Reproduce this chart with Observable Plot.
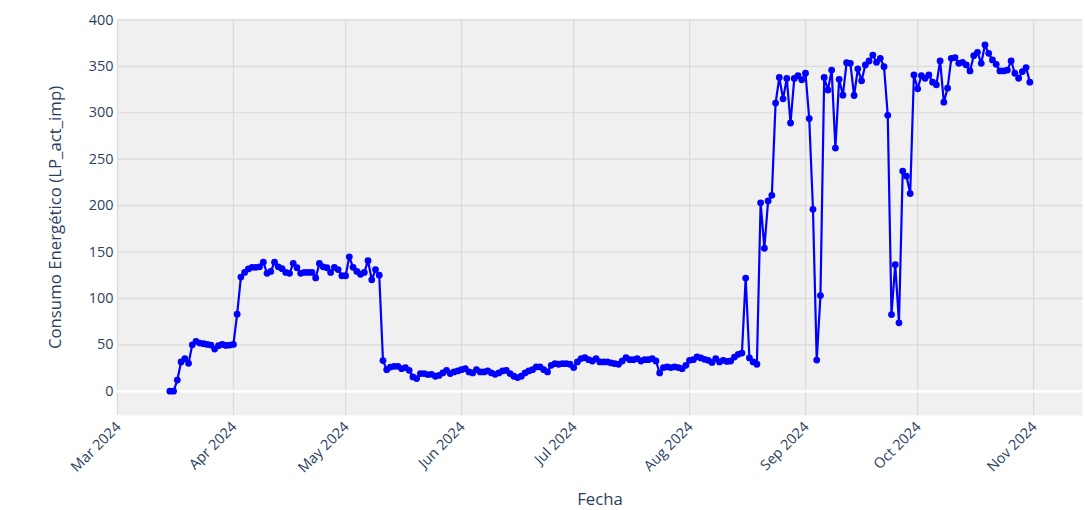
<!DOCTYPE html>
<html>
<head>
<meta charset="utf-8">
<script src="https://cdn.jsdelivr.net/npm/d3@7"></script>
<script src="https://cdn.jsdelivr.net/npm/@observablehq/plot@0.6"></script>
<style>
  html, body { margin: 0; padding: 0; background: #ffffff; }
  #chart { width: 1085px; height: 510px; }
</style>
</head>
<body>
<div id="chart"></div>
<script>
// Daily values (LP_act_imp), each array starts at the given date
const marStart = "2024-03-15";
const marValues = [0, 0, 12, 31.5, 35, 30, 50, 53.6, 51.8, 51.2, 50.4, 49.7, 45.4, 49, 50.4, 49.3, 49.7];
const aprStart = "2024-04-01";
const aprValues = [50.4, 83, 123, 128, 131.7, 133.5, 133.5, 134, 139, 127, 129, 139, 134, 132, 128, 127, 137.7, 133, 127, 128, 128, 128, 122, 137.7, 134, 133, 128, 133.5, 131, 124.4];
const mayStart = "2024-05-01";
const mayValues = [124.4, 144.8, 133.5, 129, 126, 128, 140.6, 120, 131, 125, 33, 23.2, 26, 26.8, 26.8, 24.3, 25.4, 22.5, 15.4, 13.6, 19, 19, 17.9, 18.2, 16.1, 17, 19.7, 22.5, 19, 20.8, 21.8];
const junStart = "2024-06-01";
const junValues = [23.2, 24.3, 20.8, 19.7, 23.2, 20.8, 20.8, 21.8, 19.7, 18.2, 19.7, 21.8, 22.5, 19, 16.1, 14.7, 16.1, 19.7, 21.8, 23.2, 26.1, 26.1, 23.2, 20.8, 27.9, 29.6, 29, 29.6, 29.6, 29];
const julStart = "2024-07-01";
const julValues = [25.4, 31.5, 35.1, 36.1, 33.9, 32.5, 35.1, 31.5, 31.5, 31.5, 30.4, 29.6, 29, 32.5, 36.1, 33.9, 33.9, 35.1, 32.5, 33.9, 33.9, 35.1, 32.5, 19.7, 25.4, 26.1, 25.4, 26.1, 25.4, 24.3, 27.9];
const augStart = "2024-08-01";
const augValues = [33.2, 33.9, 37, 35.8, 34.3, 33.2, 31, 35, 31.5, 33.2, 32.1, 32.5, 36.8, 39.7, 41.1, 121.9, 35.8, 31.5, 29, 203, 154, 205, 211, 310.4, 338, 315, 337, 289, 337, 340, 335.5];
const sepStart = "2024-09-01";
const sepValues = [342.6, 293.7, 196, 33.5, 103, 338, 324.5, 346, 262, 336, 319, 354, 353.3, 318.6, 347.3, 334.4, 351.5, 355.8, 362.2, 354.4, 358.7, 349.7, 297.2, 82.6, 136.3, 73.7, 237.2, 231.8, 212.9, 340.8];
const octStart = "2024-10-01";
const octValues = [325.8, 340.1, 337.2, 340.8, 333, 330.1, 355.9, 311.4, 326.5, 358.7, 359.5, 353.3, 354.4, 351.5, 345.1, 361.5, 365.1, 353.3, 373, 364, 356.9, 352.2, 345.1, 345.1, 346, 355.9, 342.6, 337.2, 344.4, 348.7, 333];

const yTicks = [0, 50, 100, 150, 200, 250, 300, 350, 400];
const xTickDates = ["2024-03-01", "2024-04-01", "2024-05-01", "2024-06-01", "2024-07-01", "2024-08-01", "2024-09-01", "2024-10-01", "2024-11-01"];
const xTitle = "Fecha";
const yTitle = "Consumo Energético (LP_act_imp)";

const segments = [
  [marStart, marValues], [aprStart, aprValues], [mayStart, mayValues], [junStart, junValues],
  [julStart, julValues], [augStart, augValues], [sepStart, sepValues], [octStart, octValues]
];
const data = [];
for (const [start, vals] of segments) {
  const s = new Date(start + "T00:00:00Z");
  vals.forEach((v, i) => data.push({date: d3.utcDay.offset(s, i), value: v}));
}
const xTicks = xTickDates.map(d => new Date(d + "T00:00:00Z"));

const textColor = "#2a3f5f";
const chart = Plot.plot({
  width: 1085,
  height: 510,
  marginLeft: 117,
  marginRight: 3,
  marginTop: 19,
  marginBottom: 95,
  style: {fontFamily: "'Open Sans', sans-serif", fontSize: "14.4px", color: textColor, background: "#ffffff", overflow: "visible"},
  x: {type: "utc", domain: [new Date("2024-03-01T00:00:00Z"), new Date("2024-11-14T02:00:00Z")]},
  y: {domain: [-26.2, 400.5]},
  marks: [
    Plot.frame({fill: "#f0f0f0", stroke: null}),
    Plot.gridX(xTicks, {stroke: "#dadada", strokeOpacity: 1, strokeWidth: 1.2}),
    Plot.gridY(yTicks, {stroke: "#dadada", strokeOpacity: 1, strokeWidth: 1.2}),
    Plot.ruleY([0], {stroke: "#ffffff", strokeWidth: 2.4}),
    Plot.axisY(yTicks, {tickSize: 0, tickPadding: 4, label: null, fill: textColor}),
    Plot.axisX(xTicks, {tickSize: 0, tickPadding: 9, dx: 1, tickRotate: -45, tickFormat: d3.utcFormat("%b %Y"), label: null, fill: textColor}),
    Plot.text([yTitle], {frameAnchor: "left", rotate: -90, dx: -62, fontSize: 16.8, fill: textColor, textAnchor: "middle", lineAnchor: "middle"}),
    Plot.text([xTitle], {frameAnchor: "bottom", dy: 84, fontSize: 16.8, fill: textColor, lineAnchor: "middle"}),
    Plot.line(data, {x: "date", y: "value", stroke: "#0000ff", strokeWidth: 2.2}),
    Plot.dot(data, {x: "date", y: "value", fill: "#0000ff", r: 3.4, stroke: null})
  ]
});
document.getElementById("chart").appendChild(chart);
</script>
</body>
</html>
